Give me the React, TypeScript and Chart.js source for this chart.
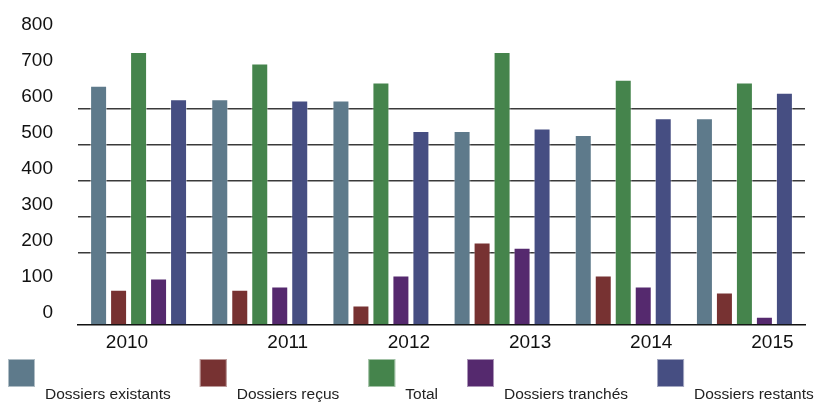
import React, { useEffect, useRef } from "react";
import { Chart, registerables } from "chart.js";

Chart.register(...registerables);

const years = ["2010", "2011", "2012", "2013", "2014", "2015"];
const seriesNames = ["Dossiers existants", "Dossiers reçus", "Total", "Dossiers tranchés", "Dossiers restants"];
const existants = [663, 626, 622, 538, 527, 573];
const recus = [98, 98, 54, 229, 137, 90];
const total = [757, 725, 672, 757, 680, 672];
const tranches = [129, 107, 137, 214, 107, 23];
const restants = [626, 622, 538, 545, 573, 644];
const colors = ["#5e7a8b", "#773232", "#45844c", "#55296e", "#464e82"];
const gridValues = [200, 300, 400, 500, 600];

const legendPlugin = {
  id: "customLegend",
  afterDraw(chart: any) {
    const ctx = chart.ctx;
    ctx.save();
    ctx.font = '15.5px "Liberation Sans", Arial, sans-serif';
    ctx.textBaseline = "middle";
    ctx.textAlign = "left";
    let x = 8;
    chart.data.datasets.forEach((ds: any) => {
      ctx.fillStyle = ds.backgroundColor;
      ctx.fillRect(x, 359, 27, 28);
      ctx.strokeStyle = "rgba(255,255,255,0.5)";
      ctx.lineWidth = 1;
      ctx.strokeRect(x + 0.5, 359.5, 26, 27);
      x += 37;
      ctx.fillStyle = "#222";
      ctx.fillText(ds.label, x, 395);
      x += ctx.measureText(ds.label).width + 29;
    });
    ctx.restore();
  },
};

export default function App() {
  const ref = useRef<HTMLCanvasElement>(null);
  useEffect(() => {
    const values = [existants, recus, total, tranches, restants];
    const chart = new Chart(ref.current!, {
      type: "bar",
      data: {
        labels: years,
        datasets: values.map((v, i) => ({
          label: seriesNames[i],
          data: v,
          backgroundColor: colors[i],
          borderColor: "rgba(255,255,255,0.45)",
          borderWidth: 1,
          categoryPercentage: 0.825,
          barPercentage: 0.85,
        })),
      },
      options: {
        animation: false,
        responsive: false,
        maintainAspectRatio: false,
        layout: { padding: { top: 34.6, right: 27, bottom: 50, left: 0 } },
        plugins: { legend: { display: false }, tooltip: { enabled: false } },
        scales: {
          x: {
            grid: { display: false, drawTicks: false },
            border: { display: true, color: "#111", width: 1.5 },
            ticks: {
              color: "#111",
              font: { family: '"Liberation Sans", Arial, sans-serif', size: 19 },
              padding: 6,
              labelOffset: 28,
              maxRotation: 0,
              autoSkip: false,
              callback: (_v: any, i: number) => (i === 0 ? years[i] + "               " : years[i]),
            },
            afterFit: (s: any) => {
              s.height = 30;
            },
          },
          y: {
            min: 0,
            max: 800,
            border: { display: false },
            grid: {
              drawTicks: false,
              color: (c: any) => (gridValues.includes(c.tick?.value) ? "#3a3a3a" : "rgba(0,0,0,0)"),
              lineWidth: 1.5,
            },
            ticks: {
              stepSize: 100,
              color: "#111",
              font: { family: '"Liberation Sans", Arial, sans-serif', size: 19 },
              padding: 25,
              labelOffset: -12,
            },
            afterFit: (s: any) => {
              s.width = 78;
            },
          },
        },
      },
      plugins: [legendPlugin],
    });
    return () => chart.destroy();
  }, []);
  return (
    <div style={{ position: "fixed", left: 0, top: 0, width: 832, height: 405, background: "#fff" }}>
      <canvas ref={ref} width={832} height={405} style={{ width: 832, height: 405 }} />
    </div>
  );
}
